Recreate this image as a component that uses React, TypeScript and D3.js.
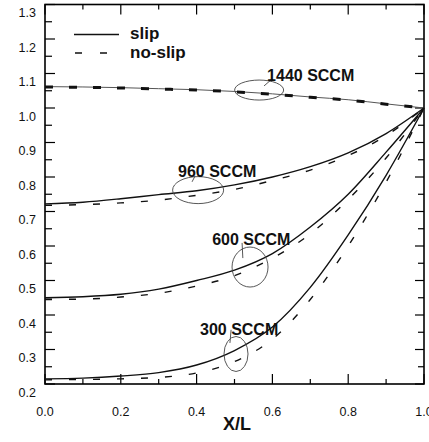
import React, { useEffect, useRef } from 'react'
import * as d3 from 'd3'

// x/L sample positions
const xs = [0, 0.1, 0.2, 0.3, 0.4, 0.5, 0.6, 0.7, 0.8, 0.9, 1.0]

const slip1440 = [1.062, 1.061, 1.059, 1.056, 1.053, 1.048, 1.041, 1.032, 1.024, 1.012, 1.0]
const noslip1440 = [1.061, 1.06, 1.058, 1.055, 1.052, 1.047, 1.04, 1.031, 1.023, 1.011, 1.0]
const slip960 = [0.722, 0.727, 0.737, 0.749, 0.76, 0.777, 0.8, 0.83, 0.87, 0.926, 1.0]
const noslip960 = [0.718, 0.72, 0.725, 0.733, 0.747, 0.764, 0.79, 0.82, 0.862, 0.92, 1.0]
const slip600 = [0.45, 0.453, 0.46, 0.475, 0.5, 0.53, 0.578, 0.655, 0.75, 0.872, 1.0]
const noslip600 = [0.445, 0.446, 0.452, 0.463, 0.484, 0.514, 0.565, 0.635, 0.735, 0.855, 1.0]
const slip300 = [0.215, 0.217, 0.223, 0.233, 0.255, 0.297, 0.365, 0.48, 0.632, 0.805, 1.0]
const noslip300 = [0.212, 0.213, 0.215, 0.219, 0.232, 0.265, 0.33, 0.445, 0.6, 0.785, 1.0]

const xTickLabels = ['0.0', '0.2', '0.4', '0.6', '0.8', '1.0']
const yTickLabels = ['0.2', '0.3', '0.4', '0.5', '0.6', '0.7', '0.8', '0.9', '1.0', '1.1', '1.2', '1.3']

// annotation: label, label anchor, ellipse centre, leader line (data units)
const notes = [
  { text: '1440 SCCM', lx: 0.586, ly: 1.077, cx: 0.565, cy: 1.052, rx: 24.5, ry: 10, l: [[0.599, 1.084], [0.578, 1.064]] },
  { text: '960 SCCM', lx: 0.351, ly: 0.8, cx: 0.404, cy: 0.762, rx: 25.5, ry: 13.5, l: [[0.396, 0.803], [0.388, 0.786]] },
  { text: '600 SCCM', lx: 0.441, ly: 0.603, cx: 0.541, cy: 0.539, rx: 18, ry: 20, l: [[0.52, 0.609], [0.522, 0.565]] },
  { text: '300 SCCM', lx: 0.409, ly: 0.342, cx: 0.504, cy: 0.287, rx: 12, ry: 17.5, l: [[0.491, 0.357], [0.488, 0.319]] },
]

const W = 429
const H = 442
const font = '"Liberation Sans", Arial, sans-serif'

export default function App() {
  const ref = useRef<SVGSVGElement>(null)

  useEffect(() => {
    const svg = d3.select(ref.current)
    svg.selectAll('*').remove()

    const x = d3.scaleLinear().domain([0, 1]).range([45, 424])
    const y = d3.scaleLinear().domain([0.2, 1.3]).range([384, 4.5])
    const line = d3.line<number>().x((_, i) => x(xs[i])).y(d => y(d)).curve(d3.curveMonotoneX)

    // frame
    svg.append('rect')
      .attr('x', 45).attr('y', 4.5).attr('width', 379).attr('height', 379.5)
      .attr('fill', 'none').attr('stroke', 'black').attr('stroke-width', 1.6)

    // inward ticks on all four sides
    const xt = d3.range(0, 11).map(i => i / 10)
    const yt = d3.range(4, 27).map(i => i / 20)
    const ticks = svg.append('g').attr('stroke', 'black').attr('stroke-width', 1.2)
    xt.forEach((v, i) => {
      const len = i % 2 === 0 ? 10 : 5
      ticks.append('line').attr('x1', x(v)).attr('x2', x(v)).attr('y1', 384).attr('y2', 384 - len)
      ticks.append('line').attr('x1', x(v)).attr('x2', x(v)).attr('y1', 4.5).attr('y2', 4.5 + len)
    })
    yt.forEach((v, i) => {
      const maj = i % 2 === 0
      ticks.append('line').attr('x1', 45).attr('x2', 45 + (maj ? 10 : 7)).attr('y1', y(v)).attr('y2', y(v))
      ticks.append('line').attr('x1', 424).attr('x2', 424 - (maj ? 9 : 6)).attr('y1', y(v)).attr('y2', y(v))
    })

    svg.selectAll('text.xl').data(xTickLabels).join('text').attr('class', 'xl')
      .attr('x', d => x(+d)).attr('y', 416).attr('font-size', 12.5).attr('text-anchor', 'middle')
      .attr('fill', '#111').text(d => d)
    svg.selectAll('text.yl').data(yTickLabels).join('text').attr('class', 'yl')
      .attr('x', 36).attr('y', d => y(+d) + 12.5).attr('font-size', 12.5).attr('text-anchor', 'end')
      .attr('fill', '#111').text(d => d)

    // curves
    svg.append('path').attr('d', line(slip1440)).attr('fill', 'none').attr('stroke', '#555').attr('stroke-width', 1)
    svg.append('path').attr('d', line(noslip1440)).attr('fill', 'none').attr('stroke', '#111')
      .attr('stroke-width', 3).attr('stroke-dasharray', '8 16')
    ;[slip960, slip600, slip300].forEach(s => {
      svg.append('path').attr('d', line(s)).attr('fill', 'none').attr('stroke', '#111').attr('stroke-width', 1.4)
    })
    ;[noslip960, noslip600, noslip300].forEach(s => {
      svg.append('path').attr('d', line(s)).attr('fill', 'none').attr('stroke', '#111')
        .attr('stroke-width', 1.4).attr('stroke-dasharray', '7 17')
    })

    // annotations
    notes.forEach(n => {
      svg.append('ellipse').attr('cx', x(n.cx)).attr('cy', y(n.cy)).attr('rx', n.rx).attr('ry', n.ry)
        .attr('fill', 'none').attr('stroke', '#444').attr('stroke-width', 0.9)
      svg.append('line').attr('x1', x(n.l[0][0])).attr('y1', y(n.l[0][1]))
        .attr('x2', x(n.l[1][0])).attr('y2', y(n.l[1][1])).attr('stroke', '#444').attr('stroke-width', 0.9)
      svg.append('text').attr('x', x(n.lx)).attr('y', y(n.ly)).attr('font-size', 16)
        .attr('font-weight', 'bold').attr('fill', '#111').text(n.text)
    })

    svg.append('text').attr('x', 237).attr('y', 430).attr('font-size', 18).attr('font-weight', 'bold')
      .attr('text-anchor', 'middle').attr('fill', '#111').text('X/L')

    // legend
    svg.append('line').attr('x1', 74).attr('x2', 119).attr('y1', 34.5).attr('y2', 34.5)
      .attr('stroke', '#111').attr('stroke-width', 1.3)
    svg.append('text').attr('x', 130).attr('y', 39).attr('font-size', 17).attr('font-weight', 'bold')
      .attr('fill', '#111').text('slip')
    svg.append('line').attr('x1', 75).attr('x2', 108).attr('y1', 53).attr('y2', 53)
      .attr('stroke', '#111').attr('stroke-width', 1.3).attr('stroke-dasharray', '7 18')
    svg.append('text').attr('x', 130).attr('y', 58).attr('font-size', 17).attr('font-weight', 'bold')
      .attr('fill', '#111').text('no-slip')
  }, [])

  return (
    <svg ref={ref} width={W} height={H} style={{ position: 'absolute', left: 0, top: 0, background: '#fff' }} fontFamily={font} />
  )
}
